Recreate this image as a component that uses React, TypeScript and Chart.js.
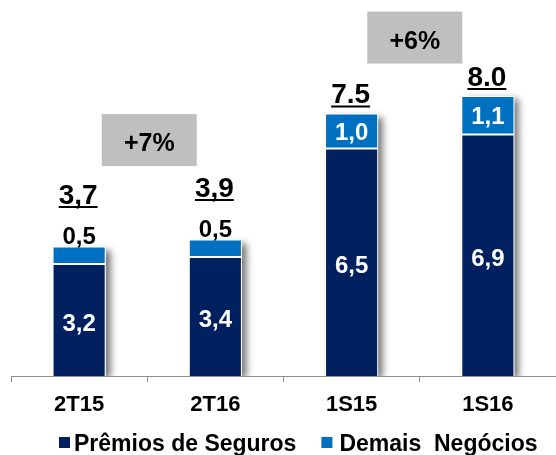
import React, { useEffect, useRef } from "react";
import { Chart, registerables } from "chart.js";

Chart.register(...registerables);

const categories = ["2T15", "2T16", "1S15", "1S16"];
const premiosSeguros = [3.2, 3.4, 6.5, 6.9];
const demaisNegocios = [0.5, 0.5, 1.0, 1.1];
const totalLabels = ["3,7", "3,9", "7.5", "8.0"];
const seriesNames = ["Prêmios de Seguros", "Demais  Negócios"];
const growthLabels = ["+7%", "+6%"];
const growthPairs = [0, 2];

const DARK = "#002060";
const LIGHT = "#0070C0";
const FONT = "'Liberation Sans', Arial, Helvetica, sans-serif";

const fmt = (v: number) => v.toFixed(1).replace(".", ",");

export default function App() {
  const ref = useRef<HTMLCanvasElement>(null);

  useEffect(() => {
    const canvas = ref.current;
    if (!canvas) return;

    const shadowPlugin = {
      id: "barShadow",
      beforeDatasetsDraw(chart: any) {
        const ctx = chart.ctx;
        const a = chart.chartArea;
        const m0 = chart.getDatasetMeta(0);
        const m1 = chart.getDatasetMeta(1);
        ctx.save();
        ctx.beginPath();
        ctx.rect(a.left, 0, chart.width - a.left, a.bottom);
        ctx.clip();
        ctx.shadowColor = "rgba(0,0,0,0.55)";
        ctx.shadowBlur = 7;
        ctx.shadowOffsetX = 5;
        ctx.shadowOffsetY = 3;
        ctx.fillStyle = "#ffffff";
        m0.data.forEach((el: any, i: number) => {
          const top = m1.data[i].y;
          const base = el.base;
          const w = el.width;
          ctx.fillRect(el.x - w / 2, top, w, base - top);
        });
        ctx.restore();
      },
    };

    const labelPlugin = {
      id: "barLabels",
      afterDatasetsDraw(chart: any) {
        const ctx = chart.ctx;
        const m0 = chart.getDatasetMeta(0);
        const m1 = chart.getDatasetMeta(1);
        ctx.save();
        ctx.textAlign = "center";
        ctx.textBaseline = "alphabetic";
        m0.data.forEach((el: any, i: number) => {
          ctx.font = `bold 24px ${FONT}`;
          ctx.fillStyle = "#ffffff";
          const mid0 = (el.y + el.base) / 2;
          ctx.fillText(fmt(premiosSeguros[i]), el.x, mid0 + 10.5);

          const e1 = m1.data[i];
          const h1 = e1.base - e1.y;
          let totalBaseline: number;
          if (h1 < 25) {
            ctx.fillStyle = "#000000";
            ctx.fillText(fmt(demaisNegocios[i]), e1.x, e1.y - 3);
            totalBaseline = e1.y - 43;
          } else {
            ctx.fillStyle = "#ffffff";
            ctx.fillText(fmt(demaisNegocios[i]), e1.x, (e1.y + e1.base) / 2 + 9);
            totalBaseline = e1.y - 10.5;
          }

          ctx.font = `bold 28px ${FONT}`;
          ctx.fillStyle = "#000000";
          const tx = e1.x - 1;
          ctx.fillText(totalLabels[i], tx, totalBaseline);
          const tw = ctx.measureText(totalLabels[i]).width;
          ctx.fillRect(tx - tw / 2, totalBaseline + 2.5, tw, 2);
        });
        ctx.restore();
      },
    };

    const extrasPlugin = {
      id: "extras",
      afterDraw(chart: any) {
        const ctx = chart.ctx;
        const xs = chart.scales.x;
        const ys = chart.scales.y;
        ctx.save();
        const boxLayout = [
          { dx: 2, yVal: 6.74 },
          { dx: -5, yVal: 9.67 },
        ];
        growthLabels.forEach((lab, k) => {
          const i = growthPairs[k];
          const cx = (xs.getPixelForValue(i) + xs.getPixelForValue(i + 1)) / 2 + boxLayout[k].dx;
          const cy = ys.getPixelForValue(boxLayout[k].yVal);
          const bw = 95;
          const bh = 52;
          ctx.fillStyle = "#BFBFBF";
          ctx.fillRect(cx - bw / 2, cy - bh / 2, bw, bh);
          ctx.fillStyle = "#000000";
          ctx.font = `bold 25px ${FONT}`;
          ctx.textAlign = "center";
          ctx.textBaseline = "alphabetic";
          ctx.fillText(lab, cx, cy + 11);
        });

        ctx.font = `bold 23px ${FONT}`;
        ctx.textAlign = "left";
        ctx.textBaseline = "alphabetic";
        const baseY = chart.height - 4;
        let x = 59;
        const colors = [DARK, LIGHT];
        const gaps = [4, 7];
        seriesNames.forEach((name, k) => {
          ctx.fillStyle = colors[k];
          ctx.fillRect(x, baseY - 14, 11, 11);
          x += 11 + gaps[k];
          ctx.fillStyle = "#000000";
          ctx.fillText(name, x, baseY);
          x += ctx.measureText(name).width + 25;
        });
        ctx.restore();
      },
    };

    const chart = new Chart(canvas, {
      type: "bar",
      data: {
        labels: categories,
        datasets: [
          {
            label: seriesNames[0],
            data: premiosSeguros,
            backgroundColor: DARK,
            borderColor: "#ffffff",
            borderWidth: 1,
            borderSkipped: "start",
            barPercentage: 0.39,
            categoryPercentage: 1,
          },
          {
            label: seriesNames[1],
            data: demaisNegocios,
            backgroundColor: LIGHT,
            borderColor: "#ffffff",
            borderWidth: 1,
            borderSkipped: false,
            barPercentage: 0.39,
            categoryPercentage: 1,
          },
        ],
      },
      options: {
        animation: false,
        responsive: true,
        maintainAspectRatio: false,
        layout: { padding: { top: 26, left: 11, right: 0, bottom: 26.6 } },
        plugins: {
          legend: { display: false },
          tooltip: { enabled: false },
        },
        scales: {
          x: {
            stacked: true,
            offset: true,
            grid: {
              display: true,
              offset: true,
              drawOnChartArea: false,
              drawTicks: true,
              tickLength: 6,
              color: "#8c8c8c",
            },
            border: { display: true, color: "#8c8c8c", width: 1 },
            ticks: {
              color: "#000000",
              font: { family: FONT, size: 22, weight: "bold" },
              padding: 10,
              maxRotation: 0,
            },
          },
          y: {
            stacked: true,
            display: false,
            min: 0,
            max: 10,
          },
        },
      },
      plugins: [shadowPlugin, labelPlugin, extrasPlugin],
    });

    return () => chart.destroy();
  }, []);

  return (
    <div
      style={{
        position: "absolute",
        left: 0,
        top: 0,
        width: 556,
        height: 455,
        background: "#ffffff",
      }}
    >
      <canvas ref={ref} />
    </div>
  );
}
